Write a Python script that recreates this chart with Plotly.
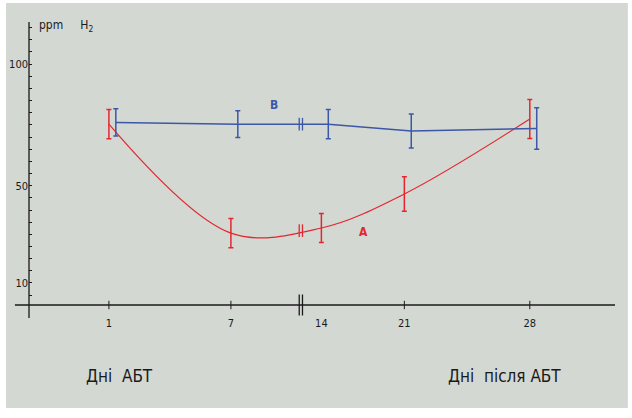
import plotly.graph_objects as go
import numpy as np

# ---- data ----
days = [1, 7, 14, 21, 28]
a_vals = [75.3, 30.5, 32.6, 46.6, 77.4]
a_err = [6.0, 6.0, 6.0, 7.1, 8.0]
b_vals = [76.0, 75.3, 75.3, 72.5, 73.5]
b_err = [5.6, 5.5, 6.0, 7.0, 8.5]
tick_days = [1, 7, 14, 21, 28]
tick_marks = [1, 7, 21, 28]
y_tick_labels = {10: "10", 50: "50", 100: "100"}

# ---- broken x axis scale: day -> axis position ----
axis_pos = {1: 1.0, 7: 7.0, 14: 11.45, 21: 15.53, 28: 21.7}
break_pos = 10.44
b_shift = 0.34  # group B drawn slightly to the right

def xs(d, shift=0.0):
    return [axis_pos[v] + shift for v in d]

RED = "#e5262f"
BLUE = "#3c57a8"
BG = "#d3d8d2"
INK = "#1a1a1a"
FONT = "DejaVu Sans Condensed, DejaVu Sans, sans-serif"

Y0, Y1 = 0.94, 117.3
X0, X1 = -2.93, 25.89

fig = go.Figure()

fig.add_trace(go.Scatter(
    x=xs(days), y=a_vals, mode="lines",
    line=dict(color=RED, width=1.2, shape="spline", smoothing=1.0),
    error_y=dict(type="data", array=a_err, color=RED, thickness=1.5, width=2.5),
    showlegend=False, hoverinfo="skip"))

fig.add_trace(go.Scatter(
    x=xs(days, b_shift), y=b_vals, mode="lines",
    line=dict(color=BLUE, width=1.5),
    error_y=dict(type="data", array=b_err, color=BLUE, thickness=1.5, width=2.5),
    showlegend=False, hoverinfo="skip"))

# break markers on the lines
a_break = float(np.interp(break_pos, xs(days), a_vals)) - 0.6
b_break = float(np.interp(break_pos, xs(days, b_shift), b_vals))
for yv, col in [(a_break, RED), (b_break, BLUE)]:
    fig.add_trace(go.Scatter(
        x=[break_pos - 0.08, break_pos + 0.08], y=[yv, yv], mode="markers",
        marker=dict(symbol="line-ns", size=9, line=dict(color=col, width=1.3)),
        showlegend=False, hoverinfo="skip"))

# break marker on x axis
fig.add_trace(go.Scatter(
    x=[break_pos - 0.08, break_pos + 0.08], y=[Y0, Y0], mode="markers",
    marker=dict(symbol="line-ns", size=15, line=dict(color=INK, width=1.3)),
    showlegend=False, hoverinfo="skip", cliponaxis=False))

# x tick marks
fig.add_trace(go.Scatter(
    x=xs(tick_marks), y=[Y0] * len(tick_marks), mode="markers",
    marker=dict(symbol="line-ns", size=6, line=dict(color=INK, width=1)),
    showlegend=False, hoverinfo="skip", cliponaxis=False))

yt = list(range(5, 120, 5))
fig.update_layout(
    width=632, height=418,
    margin=dict(l=29, r=17, t=22, b=113),
    paper_bgcolor="white", plot_bgcolor="rgba(0,0,0,0)",
    font=dict(family=FONT, color=INK, size=11),
    xaxis=dict(range=[X0, X1], showgrid=False, zeroline=False, showline=False,
               automargin=False,
               tickvals=xs(tick_days), ticktext=[str(d) for d in tick_days],
               ticks="outside", ticklen=8, tickcolor="rgba(0,0,0,0)",
               tickfont=dict(size=11, family=FONT, color=INK)),
    yaxis=dict(range=[Y0, Y1], showgrid=False, zeroline=False, showline=False,
               automargin=False,
               tickvals=yt, ticktext=[y_tick_labels.get(v, " ") for v in yt],
               ticks="inside", ticklen=3, tickwidth=1, tickcolor=INK,
               tickfont=dict(size=11, family=FONT, color=INK)),
    shapes=[
        dict(type="rect", xref="paper", yref="paper", x0=-0.0392, x1=1.022,
             y0=-0.364, y1=1.067, fillcolor=BG, line=dict(width=0), layer="below"),
        dict(type="line", xref="paper", yref="paper", x0=0, x1=0, y0=-0.046, y1=1.0,
             line=dict(color=INK, width=1.3)),
        dict(type="line", xref="paper", yref="paper", x0=-0.024, x1=1.0, y0=0, y1=0,
             line=dict(color=INK, width=1.3)),
    ],
    annotations=[
        dict(text="ppm     H<sub>2</sub>", xref="paper", yref="paper", x=0.0137, y=0.985,
             xanchor="left", yanchor="middle", showarrow=False,
             font=dict(size=12, family=FONT, color=INK)),
        dict(text="<b>B</b>", x=9.12, y=83.1, xref="x", yref="y", showarrow=False,
             xanchor="center", font=dict(size=12, family=FONT, color=BLUE)),
        dict(text="<b>A</b>", x=13.54, y=30.9, xref="x", yref="y", showarrow=False,
             xanchor="center", font=dict(size=12, family=FONT, color=RED)),
        dict(text="Дні  АБТ", xref="paper", yref="paper", x=0.155, y=-0.251,
             xanchor="center", yanchor="middle",
             showarrow=False, font=dict(size=17, family=FONT, color=INK)),
        dict(text="Дні  після АБТ", xref="paper", yref="paper", x=0.812, y=-0.251,
             xanchor="center", yanchor="middle",
             showarrow=False, font=dict(size=17, family=FONT, color=INK)),
    ],
)

fig.write_html("out.html", config={"displayModeBar": False},
               post_script="document.body.style.margin='0';")
